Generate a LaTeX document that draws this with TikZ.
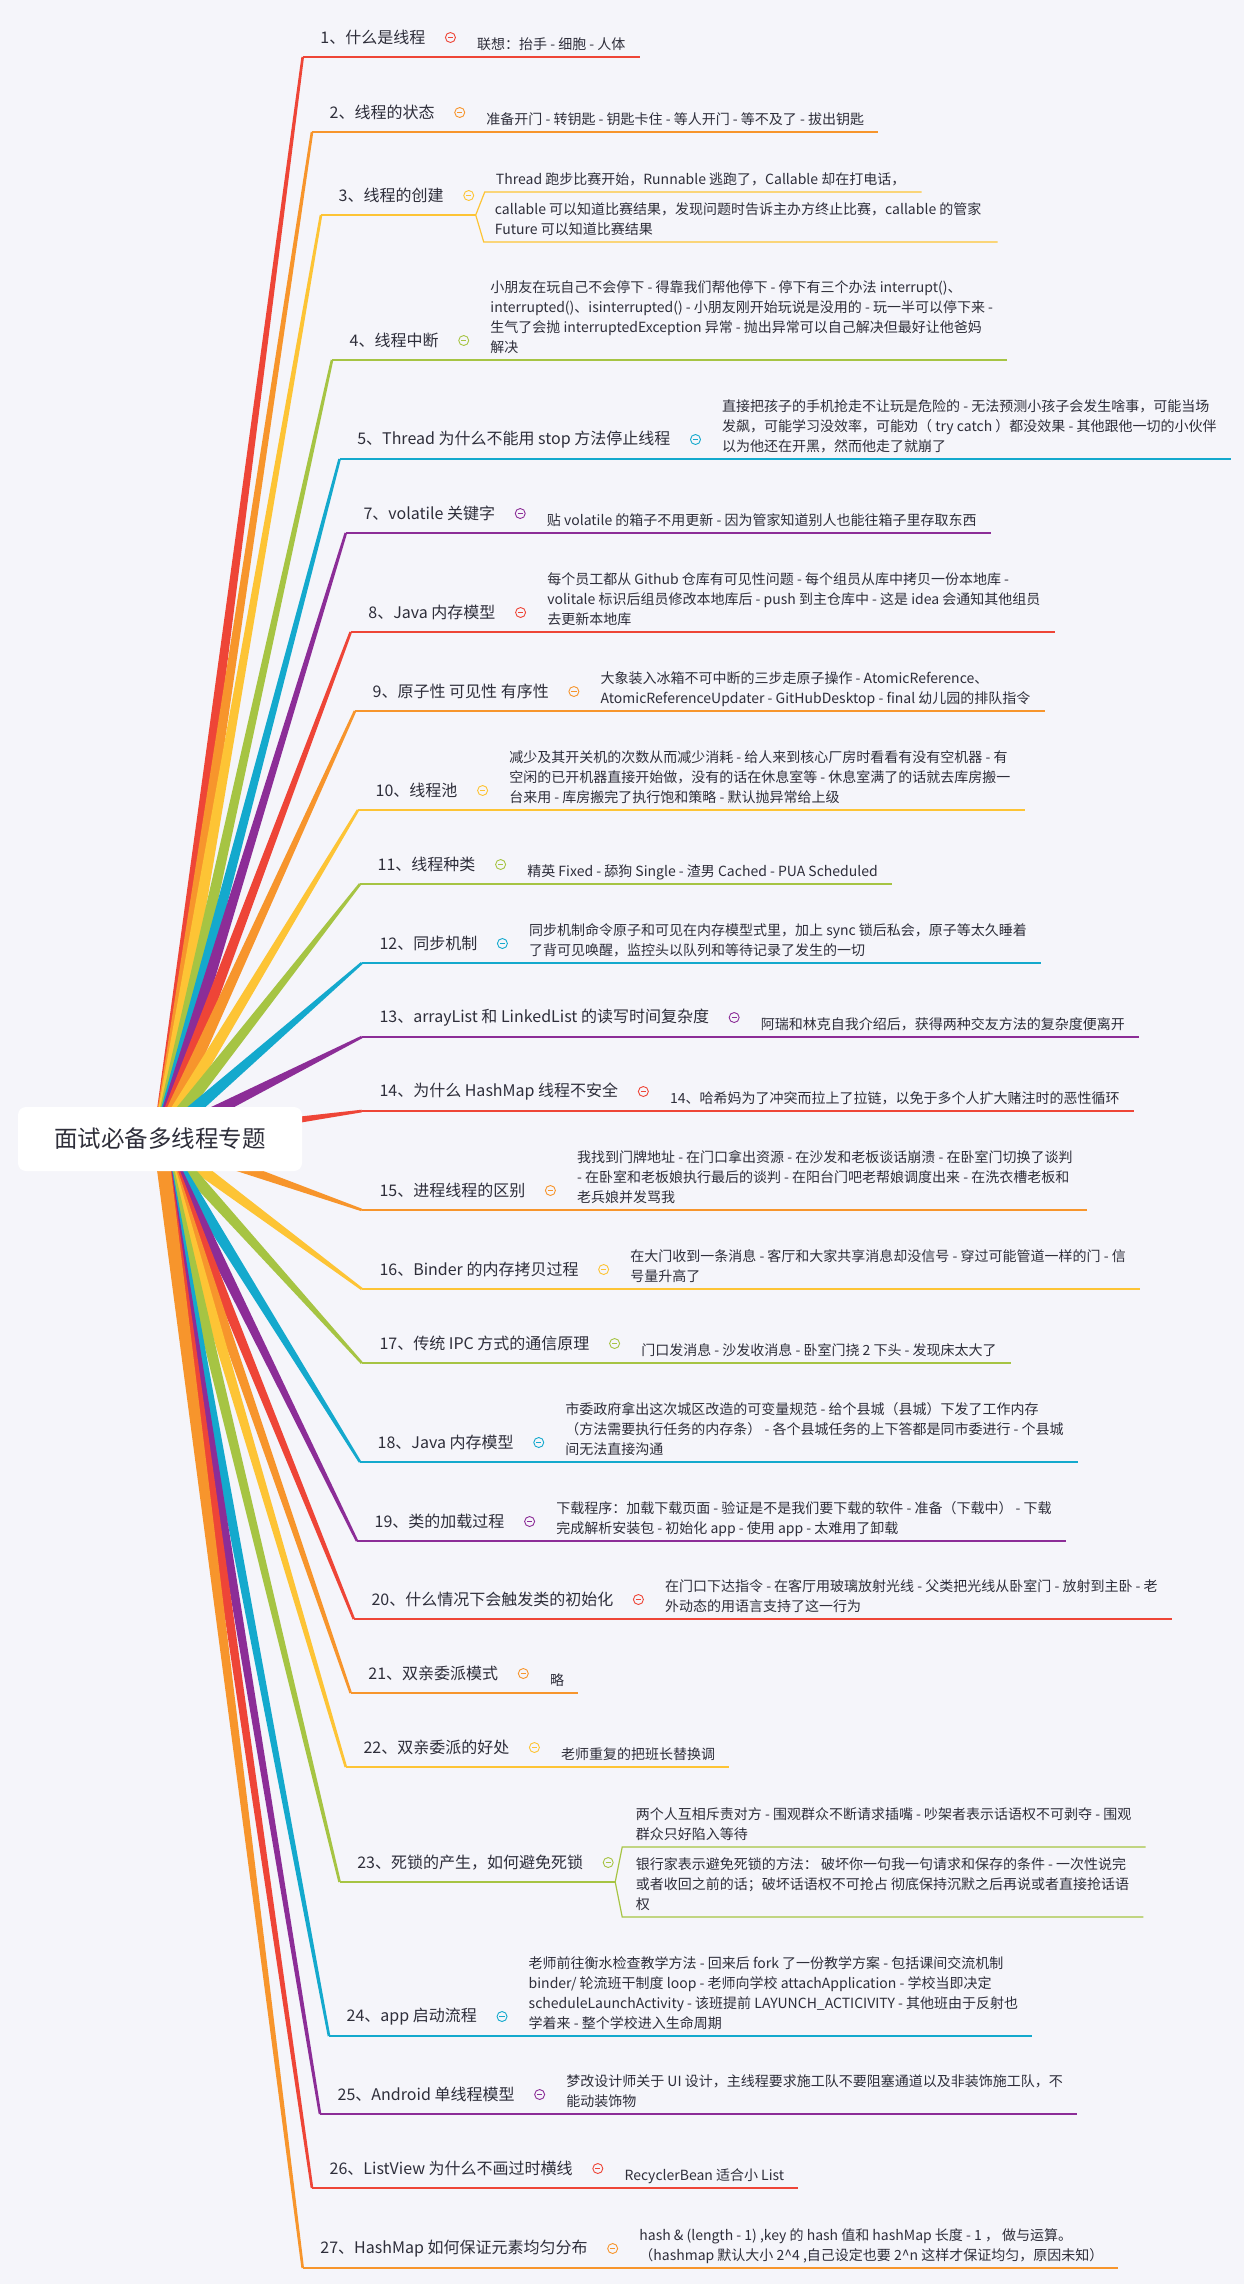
\documentclass[tikz,border=0pt]{standalone}
\usepackage{fontspec}
\setmainfont{Noto Sans CJK SC}
\usepackage{tikz}
\usetikzlibrary{
  calc,        % 坐标计算
  positioning  % 节点相对定位
}

% 配色
\definecolor{bg}{HTML}{F5F5FA}
\definecolor{wenzi}{HTML}{2E2E3A}
\definecolor{hong}{HTML}{EE4537}
\definecolor{cheng}{HTML}{F7952C}
\definecolor{huang}{HTML}{FDC435}
\definecolor{lv}{HTML}{A6C443}
\definecolor{qing}{HTML}{14A9CD}
\definecolor{zi}{HTML}{8C2D97}

\tikzset{
  genjiedian/.style={fill=white, rounded corners=8pt, minimum width=284pt,
    minimum height=64pt, text=wenzi, font=\fontsize{23.5}{28}\selectfont},
  biaoti/.style={inner sep=0pt, text=wenzi, font=\fontsize{16}{20}\selectfont},
  neirong/.style={inner sep=0pt, align=left, text=wenzi,
    font=\fontsize{14}{20}\selectfont, execute at end node=\strut},
  tubiao/.style={circle, draw=#1, line width=0.9pt, fill=bg, inner sep=0pt,
    minimum size=10pt, path picture={\draw[#1, line width=0.9pt] (-2.6pt,0pt) -- (2.6pt,0pt);}}
}

% 分支：锥形连线 + 主题 + 图标
% #1 编号  #2 颜色  #3,#4 下划线起点  #5 主题文字
\newcommand{\fenzhi}[5]{%
  \coordinate (s#1) at (#3,#4);
  \fill[#2] ($(gen)!7pt!90:(s#1)$) -- ($(s#1)!1.3pt!-90:(gen)$)
    -- ($(s#1)!1.3pt!90:(gen)$) -- ($(gen)!7pt!-90:(s#1)$) -- cycle;
  \node[biaoti, anchor=west] (t#1) at ($(s#1)+(17.5,-19.5)$) {#5};
  \node[tubiao=#2, right=19.5pt of t#1] (i#1) {};
}

% 分支 + 单个子主题  #6 子主题文字
\newcommand{\zhuti}[6]{%
  \fenzhi{#1}{#2}{#3}{#4}{#5}
  \coordinate (e#1) at ($(s#1 -| i#1)+(14,0)$);
  \node[neirong, anchor=south west] (z#1) at ($(e#1)+(12.5,-1.2)$) {#6};
  \draw[#2, line width=2.6pt] (s#1) -- (e#1);
  \draw[#2, line width=1.2pt] (e#1) -- ($(s#1 -| z#1.east)+(14,0)$);
}

\begin{document}
\begin{tikzpicture}[x=1pt, y=-1pt]
  % 背景
  \fill[bg] (0,0) rectangle (1244,2284);
  \useasboundingbox (0,0) rectangle (1244,2284);

  % 根节点中心
  \coordinate (gen) at (160,1139);

  % 1 - 2
  \zhuti{1}{hong}{302.7}{57}{1、什么是线程}{联想：抬手 - 细胞 - 人体}
  \zhuti{2}{cheng}{312}{132}{2、线程的状态}{准备开门 - 转钥匙 - 钥匙卡住 - 等人开门 - 等不及了 - 拔出钥匙}

  % 3 两个子主题
  \fenzhi{3}{huang}{321}{215}{3、线程的创建}
  \coordinate (e3) at ($(s3 -| i3)+(7,0)$);
  \coordinate (u3) at ($(e3)+(9,-23)$);
  \coordinate (d3) at ($(e3)+(8,27)$);
  \node[neirong, anchor=south west] (z3a) at ($(u3)+(11,-1.2)$)
    {Thread 跑步比赛开始，Runnable 逃跑了，Callable 却在打电话，};
  \node[neirong, anchor=south west] (z3b) at ($(d3)+(11,-1.2)$)
    {callable 可以知道比赛结果，发现问题时告诉主办方终止比赛，callable 的管家\\Future 可以知道比赛结果};
  \draw[huang, line width=2.6pt] (s3) -- (e3);
  \draw[huang, line width=1.2pt] ($(u3 -| z3a.east)+(16,0)$) -- (u3) -- (e3) -- (d3) -- ($(d3 -| z3b.east)+(16,0)$);

  % 4 - 14
  \zhuti{4}{lv}{332}{360}{4、线程中断}{小朋友在玩自己不会停下 - 得靠我们帮他停下 - 停下有三个办法 interrupt()、\\interrupted()、isinterrupted() - 小朋友刚开始玩说是没用的 - 玩一半可以停下来 -\\生气了会抛 interruptedException 异常 - 抛出异常可以自己解决但最好让他爸妈\\解决}
  \zhuti{5}{qing}{339.6}{459}{5、Thread 为什么不能用 stop 方法停止线程}{直接把孩子的手机抢走不让玩是危险的 - 无法预测小孩子会发生啥事，可能当场\\发飙，可能学习没效率，可能劝（ try catch ）都没效果 - 其他跟他一切的小伙伴\\以为他还在开黑，然而他走了就崩了}
  \zhuti{7}{zi}{345.8}{533}{7、volatile 关键字}{贴 volatile 的箱子不用更新 - 因为管家知道别人也能往箱子里存取东西}
  \zhuti{8}{hong}{350.7}{632}{8、Java 内存模型}{每个员工都从 Github 仓库有可见性问题 - 每个组员从库中拷贝一份本地库 -\\volitale 标识后组员修改本地库后 - push 到主仓库中 - 这是 idea 会通知其他组员\\去更新本地库}
  \zhuti{9}{cheng}{355}{711}{9、原子性 可见性 有序性}{大象装入冰箱不可中断的三步走原子操作 - AtomicReference、\\AtomicReferenceUpdater - GitHubDesktop - final 幼儿园的排队指令}
  \zhuti{10}{huang}{358}{810}{10、线程池}{减少及其开关机的次数从而减少消耗 - 给人来到核心厂房时看看有没有空机器 - 有\\空闲的已开机器直接开始做，没有的话在休息室等 - 休息室满了的话就去库房搬一\\台来用 - 库房搬完了执行饱和策略 - 默认抛异常给上级}
  \zhuti{11}{lv}{360}{884}{11、线程种类}{精英 Fixed - 舔狗 Single - 渣男 Cached - PUA Scheduled}
  \zhuti{12}{qing}{361.8}{963}{12、同步机制}{同步机制命令原子和可见在内存模型式里，加上 sync 锁后私会，原子等太久睡着\\了背可见唤醒，监控头以队列和等待记录了发生的一切}
  \zhuti{13}{zi}{361.8}{1037}{13、arrayList 和 LinkedList 的读写时间复杂度}{阿瑞和林克自我介绍后，获得两种交友方法的复杂度便离开}
  \zhuti{14}{hong}{361.8}{1111}{14、为什么 HashMap 线程不安全}{14、哈希妈为了冲突而拉上了拉链，以免于多个人扩大赌注时的恶性循环}

  % 15 - 22
  \zhuti{15}{cheng}{361.8}{1210}{15、进程线程的区别}{我找到门牌地址 - 在门口拿出资源 - 在沙发和老板谈话崩溃 - 在卧室门切换了谈判\\- 在卧室和老板娘执行最后的谈判 - 在阳台门吧老帮娘调度出来 - 在洗衣槽老板和\\老兵娘并发骂我}
  \zhuti{16}{huang}{361.8}{1289}{16、Binder 的内存拷贝过程}{在大门收到一条消息 - 客厅和大家共享消息却没信号 - 穿过可能管道一样的门 - 信\\号量升高了}
  \zhuti{17}{lv}{361.8}{1363}{17、传统 IPC 方式的通信原理}{门口发消息 - 沙发收消息 - 卧室门挠 2 下头 - 发现床太大了}
  \zhuti{18}{qing}{360}{1462}{18、Java 内存模型}{市委政府拿出这次城区改造的可变量规范 - 给个县城（县城）下发了工作内存\\（方法需要执行任务的内存条） - 各个县城任务的上下答都是同市委进行 - 个县城\\间无法直接沟通}
  \zhuti{19}{zi}{357}{1541}{19、类的加载过程}{下载程序：加载下载页面 - 验证是不是我们要下载的软件 - 准备（下载中） - 下载\\完成解析安装包 - 初始化 app - 使用 app - 太难用了卸载}
  \zhuti{20}{hong}{353.8}{1619}{20、什么情况下会触发类的初始化}{在门口下达指令 - 在客厅用玻璃放射光线 - 父类把光线从卧室门 - 放射到主卧 - 老\\外动态的用语言支持了这一行为}
  \zhuti{21}{cheng}{350.7}{1693}{21、双亲委派模式}{略}
  \zhuti{22}{huang}{345.8}{1767}{22、双亲委派的好处}{老师重复的把班长替换调}

  % 23 两个子主题
  \fenzhi{23}{lv}{339.6}{1882}{23、死锁的产生，如何避免死锁}
  \coordinate (e23) at ($(s23 -| i23)+(7,0)$);
  \coordinate (u23) at ($(e23)+(7,-35)$);
  \coordinate (d23) at ($(e23)+(7,35)$);
  \node[neirong, anchor=south west] (z23a) at ($(u23)+(13.5,-1.2)$)
    {两个人互相斥责对方 - 围观群众不断请求插嘴 - 吵架者表示话语权不可剥夺 - 围观\\群众只好陷入等待};
  \node[neirong, anchor=south west] (z23b) at ($(d23)+(13.5,-1.2)$)
    {银行家表示避免死锁的方法： 破坏你一句我一句请求和保存的条件 - 一次性说完\\或者收回之前的话；破坏话语权不可抢占 彻底保持沉默之后再说或者直接抢话语\\权};
  \draw[lv, line width=2.6pt] (s23) -- (e23);
  \draw[lv, line width=1.2pt] ($(u23 -| z23a.east)+(14,0)$) -- (u23) -- (e23) -- (d23) -- ($(d23 -| z23b.east)+(14,0)$);

  % 24 - 27
  \zhuti{24}{qing}{329}{2036}{24、app 启动流程}{老师前往衡水检查教学方法 - 回来后 fork 了一份教学方案 - 包括课间交流机制\\binder/ 轮流班干制度 loop - 老师向学校 attachApplication - 学校当即决定\\scheduleLaunchActivity - 该班提前 LAYUNCH\_ACTICIVITY - 其他班由于反射也\\学着来 - 整个学校进入生命周期}
  \zhuti{25}{zi}{320}{2114}{25、Android 单线程模型}{梦改设计师关于 UI 设计，主线程要求施工队不要阻塞通道以及非装饰施工队，不\\能动装饰物}
  \zhuti{26}{hong}{312}{2188}{26、ListView 为什么不画过时横线}{RecyclerBean 适合小 List}
  \zhuti{27}{cheng}{302.7}{2268}{27、HashMap 如何保证元素均匀分布}{hash \& (length - 1) ,key 的 hash 值和 hashMap 长度 - 1 ， 做与运算。\\（hashmap 默认大小 2\textasciicircum 4 ,自己设定也要 2\textasciicircum n 这样才保证均匀，原因未知）}

  % 根节点（盖住连线起点）
  \node[genjiedian] (root) at (gen) {面试必备多线程专题};
\end{tikzpicture}
\end{document}
